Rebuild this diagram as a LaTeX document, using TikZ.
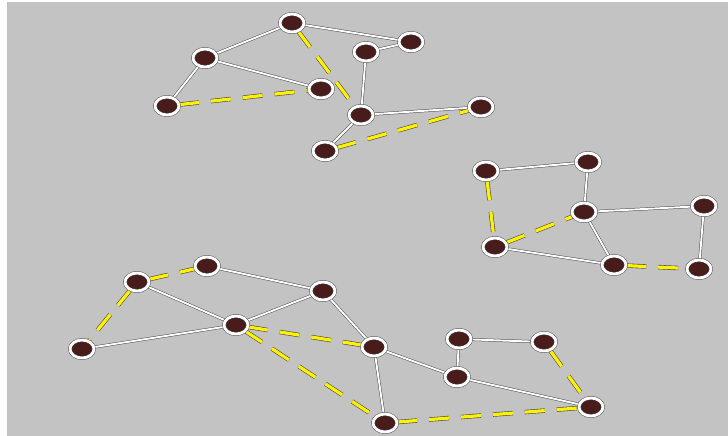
\documentclass[tikz,border=0pt]{standalone}
\usetikzlibrary{shapes.geometric, backgrounds}

\definecolor{boardgray}{RGB}{195,195,195}
\definecolor{sitefill}{RGB}{72,28,26}

\begin{document}
\begin{tikzpicture}[x=1pt, y=-1pt,
    site/.style={ellipse, fill=sitefill, draw=black!70, double=white, double distance=2.8pt, line width=0.5pt, minimum width=24pt, minimum height=18pt, inner sep=0pt},
    bond/.style={draw=black!70, double=white, double distance=1.9pt, line width=0.5pt},
    weak bond/.style={draw=black!70, double=yellow, double distance=3.2pt, line width=0.6pt, dash pattern=on 20pt off 12pt}]
    \useasboundingbox (0,0) rectangle (728,436);

    % upper cluster
    \node[site] (a1) at (292,23) {};
    \node[site] (a2) at (205,58) {};
    \node[site] (a3) at (167,106) {};
    \node[site] (a4) at (321,89) {};
    \node[site] (a5) at (366,52) {};
    \node[site] (a6) at (411,42) {};
    \node[site] (a7) at (361,115) {};
    \node[site] (a8) at (481,107) {};
    \node[site] (a9) at (325,151) {};

    % right cluster
    \node[site] (b1) at (486,171) {};
    \node[site] (b2) at (588,162) {};
    \node[site] (b3) at (584,212) {};
    \node[site] (b4) at (704,206) {};
    \node[site] (b5) at (495,247) {};
    \node[site] (b6) at (614,265) {};
    \node[site] (b7) at (699,269) {};

    % lower cluster
    \node[site] (c1) at (207,266) {};
    \node[site] (c2) at (137,282) {};
    \node[site] (c3) at (82,349) {};
    \node[site] (c4) at (236,325) {};
    \node[site] (c5) at (323,291) {};
    \node[site] (c6) at (374,347) {};
    \node[site] (c7) at (459,339) {};
    \node[site] (c8) at (544,342) {};
    \node[site] (c9) at (457,377) {};
    \node[site] (c10) at (591,407) {};
    \node[site] (c11) at (385,423) {};

    \begin{scope}[on background layer]
        \fill[white] (0,0) rectangle (728,436);
        \fill[boardgray] (7,2) rectangle (728,436);

        \foreach \u/\v in {a1/a2, a1/a6, a2/a3, a2/a4, a5/a6, a5/a7, a7/a8, a7/a9,
                           b1/b2, b2/b3, b3/b4, b5/b6, b3/b6, b4/b7,
                           c1/c5, c2/c4, c3/c4, c4/c5, c5/c6, c6/c11, c6/c9, c7/c8, c7/c9, c9/c10}
            \draw[bond] (\u) -- (\v);

        \foreach \u/\v in {a1/a7, a3/a4, a9/a8,
                           b1/b5, b5/b3, b6/b7,
                           c2/c1, c2/c3, c4/c6, c4/c11, c8/c10, c11/c10}
            \draw[weak bond] (\u) -- (\v);
    \end{scope}
\end{tikzpicture}
\end{document}
